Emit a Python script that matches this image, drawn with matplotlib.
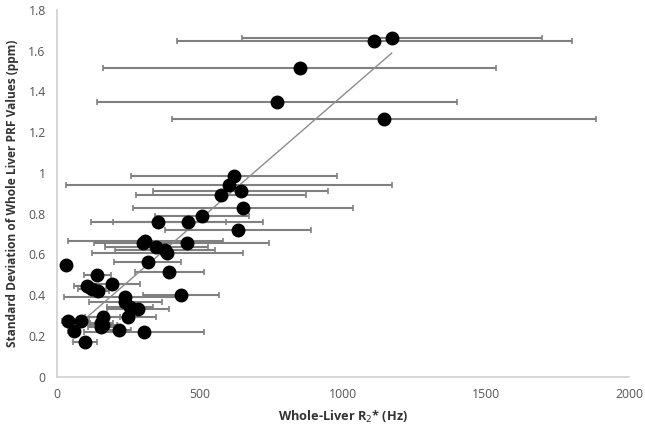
#---------import---------#
import numpy as np
import matplotlib
matplotlib.use("Agg")
import matplotlib.pyplot as plt
from matplotlib.ticker import FuncFormatter
#------------------------#


#----------Data----------#
r2_hz = [1171, 1110, 849, 770, 1144,
         619, 601, 643, 573, 650, 507, 355, 459, 634,
         310, 300, 456, 348, 377, 387, 318, 33, 394,
         142, 192, 105, 123, 144, 433, 238, 240, 257, 283,
         250, 160, 156, 162, 154, 40, 84, 59, 218, 305, 98]
sd_ppm = [1.660, 1.646, 1.513, 1.350, 1.265,
          0.985, 0.939, 0.913, 0.890, 0.828, 0.789, 0.761, 0.761, 0.720,
          0.667, 0.654, 0.654, 0.638, 0.622, 0.609, 0.564, 0.548, 0.512,
          0.497, 0.456, 0.445, 0.432, 0.422, 0.401, 0.391, 0.368, 0.344, 0.330,
          0.291, 0.294, 0.265, 0.254, 0.242, 0.275, 0.275, 0.224, 0.229, 0.221, 0.172]
r2_err = [525, 690, 688, 628, 740,
          360, 570, 306, 297, 384, 165, 235, 263, 254,
          270, 170, 286, 180, 175, 265, 117, 0, 119,
          48, 98, 45, 50, 40, 133, 212, 128, 80, 108,
          98, 60, 40, 50, 45, 20, 30, 20, 40, 210, 41]

trend_x = [100, 1171]
trend_y = [0.285, 1.588]
#------------------------#


#------Setting_font------#
plt.rcParams['font.family'] = ['Open Sans', 'DejaVu Sans']
#------------------------#


#--------Plot------------#
fig = plt.figure(figsize=(6.45, 4.3), dpi=100)
ax = fig.add_axes([0.088, 0.124, 0.887, 0.853])

ax.errorbar(r2_hz, sd_ppm, xerr=r2_err, fmt='none', ecolor='#808080',
            elinewidth=1.5, capsize=2.5, capthick=1.2, zorder=2)
ax.plot(trend_x, trend_y, color='#8c8c8c', lw=1.0, zorder=3)
ax.plot(r2_hz, sd_ppm, 'o', color='black', markersize=9, zorder=4)

ax.set_xlim(0, 2000)
ax.set_ylim(0, 1.8)
ax.set_xticks(np.arange(0, 2001, 500))
ax.set_yticks(np.arange(0, 1.81, 0.2))
ax.yaxis.set_major_formatter(FuncFormatter(lambda v, p: f"{v:g}"))
ax.tick_params(length=0, labelsize=8.8, labelcolor='#555555', pad=8)

for s in ['top', 'right']:
    ax.spines[s].set_visible(False)
for s in ['left', 'bottom']:
    ax.spines[s].set_color('#d0d0d0')
    ax.spines[s].set_linewidth(1.2)

ax.set_xlabel('Whole-Liver R$_2$* (Hz)', fontsize=9.2, fontweight='bold',
              color='#333333', labelpad=6)
ax.set_ylabel('Standard Deviation of Whole Liver PRF Values (ppm)', fontsize=8.6,
              fontweight='bold', color='#333333', labelpad=7)

fig.savefig('out.png', dpi=100)
#------------------------#
